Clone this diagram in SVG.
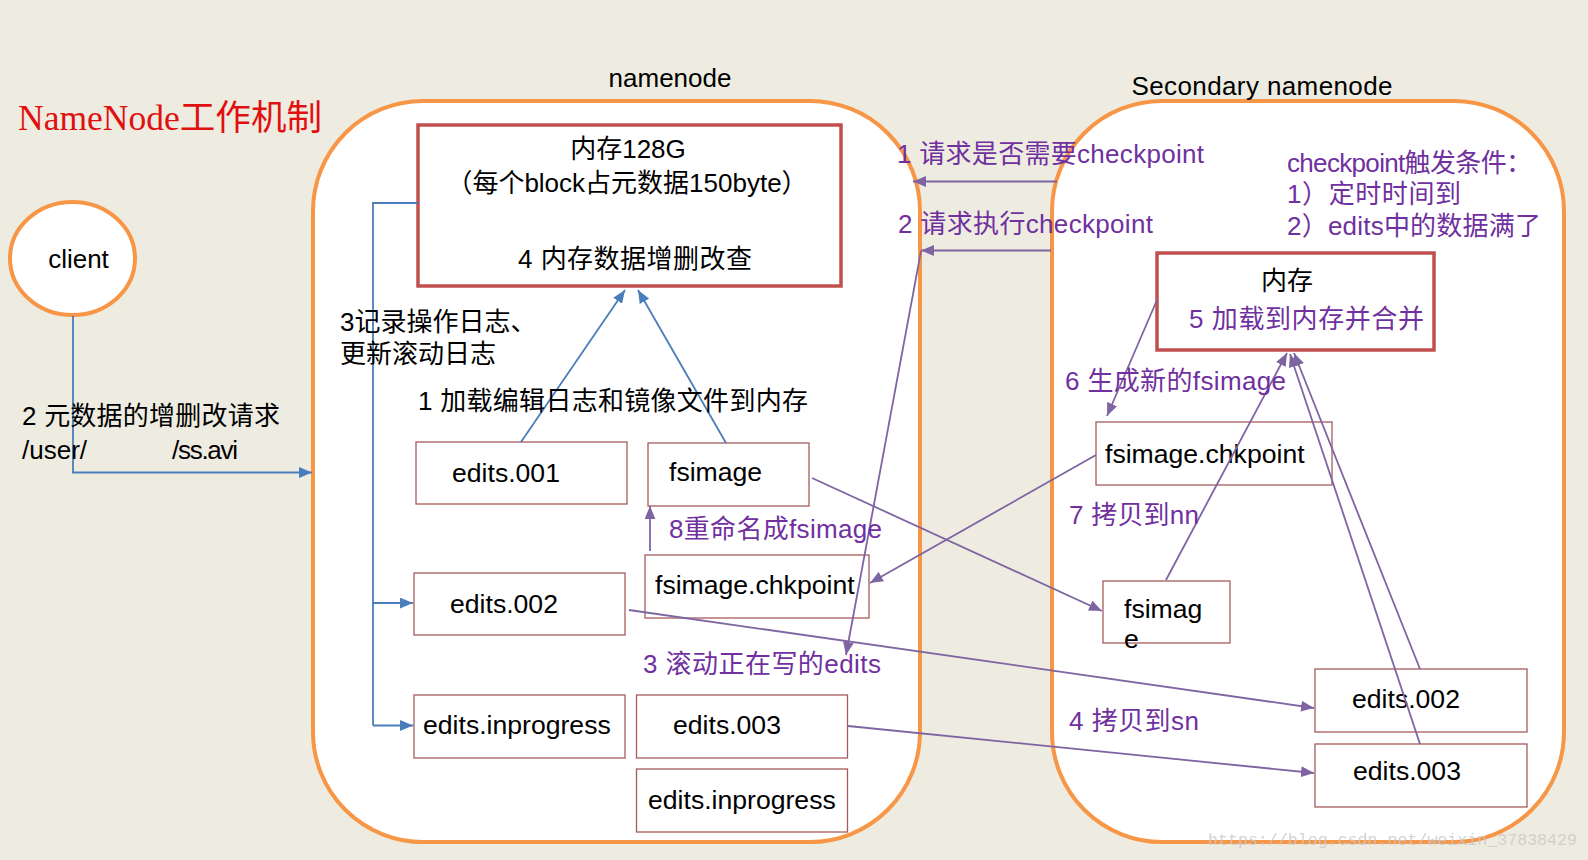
<svg xmlns="http://www.w3.org/2000/svg" width="1588" height="860" viewBox="0 0 1588 860">
<defs>
<style>
.t{font-family:"Liberation Sans","Noto Sans CJK SC",sans-serif;font-size:26px;fill:#000}
.n{font-size:26.6px}
.p{fill:#7030A0}
.c{text-anchor:middle}
.box{fill:#fff;stroke:#A65B5B;stroke-width:1.3}
.mem{fill:#fff;stroke:#C0504D;stroke-width:3.5}
.cont{fill:#fff;stroke:#F79646;stroke-width:4}
.lp{fill:none;stroke:#7F64A2;stroke-width:1.8}
.lb{fill:none;stroke:#4A7EBB;stroke-width:1.8}
</style>
<marker id="ap" viewBox="0 0 12 10" refX="12" refY="5" markerWidth="13" markerHeight="11" orient="auto" markerUnits="userSpaceOnUse"><path d="M0,0 L12,5 L0,10 z" fill="#7F64A2"/></marker>
<marker id="ab" viewBox="0 0 12 10" refX="12" refY="5" markerWidth="13" markerHeight="11" orient="auto" markerUnits="userSpaceOnUse"><path d="M0,0 L12,5 L0,10 z" fill="#4A7EBB"/></marker>
</defs>
<rect x="0" y="0" width="1588" height="860" fill="#EEECE1"/>

<text x="18" y="130" font-family="Liberation Serif,'Noto Sans CJK SC',serif" font-size="35" fill="#E01010" textLength="304" lengthAdjust="spacingAndGlyphs">NameNode工作机制</text>

<g id="namenode">
<rect class="cont" x="313" y="101" width="607" height="741" rx="110" ry="110"/>
<text class="t c" x="670" y="87">namenode</text>
</g>
<g id="secondary">
<rect class="cont" x="1052" y="101" width="512" height="741" rx="110" ry="110"/>
<text class="t c" x="1262" y="95" textLength="261">Secondary namenode</text>
</g>

<g id="client">
<ellipse cx="72.5" cy="258.5" rx="62.5" ry="56.5" fill="#fff" stroke="#F79646" stroke-width="4"/>
<text class="t c" x="78.5" y="268">client</text>
</g>

<g id="nn-mem">
<rect class="mem" x="418" y="125" width="423" height="161"/>
<text class="t c" x="628" y="158">内存128G</text>
<text class="t c" x="627" y="192" font-size="25">（每个block占元数据150byte）</text>
<text class="t" x="518" y="268" textLength="234">4 内存数据增删改查</text>
</g>
<g id="nn-edits001"><rect class="box" x="416" y="442" width="211" height="62"/><text class="t n" x="452" y="482">edits.001</text></g>
<g id="nn-fsimage"><rect class="box" x="648" y="443" width="161" height="63"/><text class="t n" x="669" y="481">fsimage</text></g>
<g id="nn-chkpoint"><rect class="box" x="645" y="555" width="224" height="63"/><text class="t n" x="655" y="594">fsimage.chkpoint</text></g>
<g id="nn-edits002"><rect class="box" x="414" y="573" width="211" height="62"/><text class="t n" x="450" y="613">edits.002</text></g>
<g id="nn-inprogress1"><rect class="box" x="414" y="695" width="211" height="63"/><text class="t n" x="423" y="734">edits.inprogress</text></g>
<g id="nn-edits003"><rect class="box" x="636.5" y="695" width="211" height="63"/><text class="t n" x="673" y="734">edits.003</text></g>
<g id="nn-inprogress2"><rect class="box" x="636.5" y="769" width="211" height="63"/><text class="t n" x="648" y="809">edits.inprogress</text></g>

<g id="sn-mem">
<rect class="mem" x="1157" y="253" width="277" height="97"/>
<text class="t c" x="1287" y="290">内存</text>
<text class="t p" x="1189" y="328" textLength="235">5 加载到内存并合并</text>
</g>
<g id="sn-chkpoint"><rect class="box" x="1096" y="422" width="236" height="63"/><text class="t n" x="1105" y="463">fsimage.chkpoint</text></g>
<g id="sn-fsimage"><rect class="box" x="1103" y="581" width="127" height="62"/><text class="t n" x="1124" y="618">fsimag</text><text class="t n" x="1124" y="648">e</text></g>
<g id="sn-edits002"><rect class="box" x="1315" y="669" width="212" height="63"/><text class="t n" x="1352" y="708">edits.002</text></g>
<g id="sn-edits003"><rect class="box" x="1315" y="744" width="212" height="63"/><text class="t n" x="1353" y="780">edits.003</text></g>

<g id="connectors">
<path class="lb" d="M73,316 V472.5 H312" marker-end="url(#ab)"/>
<path class="lb" d="M418,203 H373 V725.5"/>
<path class="lb" d="M373,603 H413" marker-end="url(#ab)"/>
<path class="lb" d="M373,725.5 H413" marker-end="url(#ab)"/>
<path class="lb" d="M521,442 L625,290" marker-end="url(#ab)"/>
<path class="lb" d="M726,443 L638,290" marker-end="url(#ab)"/>

<path class="lp" d="M1057,181.5 L913,181.5" marker-end="url(#ap)"/>
<path class="lp" d="M1051,250.5 L921,250.5" marker-end="url(#ap)"/>
<path class="lp" d="M921,251 L846,655" marker-end="url(#ap)"/>
<path class="lp" d="M650,551 L650,506" marker-end="url(#ap)"/>
<path class="lp" d="M812,478 L1102,611" marker-end="url(#ap)"/>
<path class="lp" d="M1096,455 L870,583" marker-end="url(#ap)"/>
<path class="lp" d="M629,610 L1314,708" marker-end="url(#ap)"/>
<path class="lp" d="M848,726 L1314,773" marker-end="url(#ap)"/>
<path class="lp" d="M1157,300 L1107,416" marker-end="url(#ap)"/>
<path class="lp" d="M1166,580 L1287,353" marker-end="url(#ap)"/>
<path class="lp" d="M1420,669 L1294,353" marker-end="url(#ap)"/>
<path class="lp" d="M1420,744 L1290,354" marker-end="url(#ap)"/>
</g>

<g id="labels">
<text class="t" x="340" y="331" font-size="25">3记录操作日志、</text>
<text class="t" x="340" y="363" font-size="25">更新滚动日志</text>
<text class="t" x="418" y="410" textLength="390">1 加载编辑日志和镜像文件到内存</text>
<text class="t" x="22" y="425" textLength="258">2 元数据的增删改请求</text>
<text class="t" x="22" y="459">/user/</text>
<text class="t" x="172" y="459" textLength="66">/ss.avi</text>
<text class="t p" x="669" y="538" textLength="213">8重命名成fsimage</text>
<text class="t p" x="643" y="673" textLength="238">3 滚动正在写的edits</text>
<text class="t p" x="897" y="163" textLength="307">1 请求是否需要checkpoint</text>
<text class="t p" x="898" y="233" textLength="255">2 请求执行checkpoint</text>
<text class="t p" x="1287" y="172" textLength="245">checkpoint触发条件：</text>
<text class="t p" x="1287" y="203" textLength="174">1）定时时间到</text>
<text class="t p" x="1287" y="235" textLength="254">2）edits中的数据满了</text>
<text class="t p" x="1065" y="390" textLength="221">6 生成新的fsimage</text>
<text class="t p" x="1069" y="524" textLength="130">7 拷贝到nn</text>
<text class="t p" x="1069" y="730" textLength="130">4 拷贝到sn</text>
<text x="1208" y="845" font-family="Liberation Mono,monospace" font-size="17" fill="#C8C8C8" fill-opacity="0.8" textLength="369" lengthAdjust="spacingAndGlyphs">https://blog.csdn.net/weixin_37838429</text>
</g>
</svg>
